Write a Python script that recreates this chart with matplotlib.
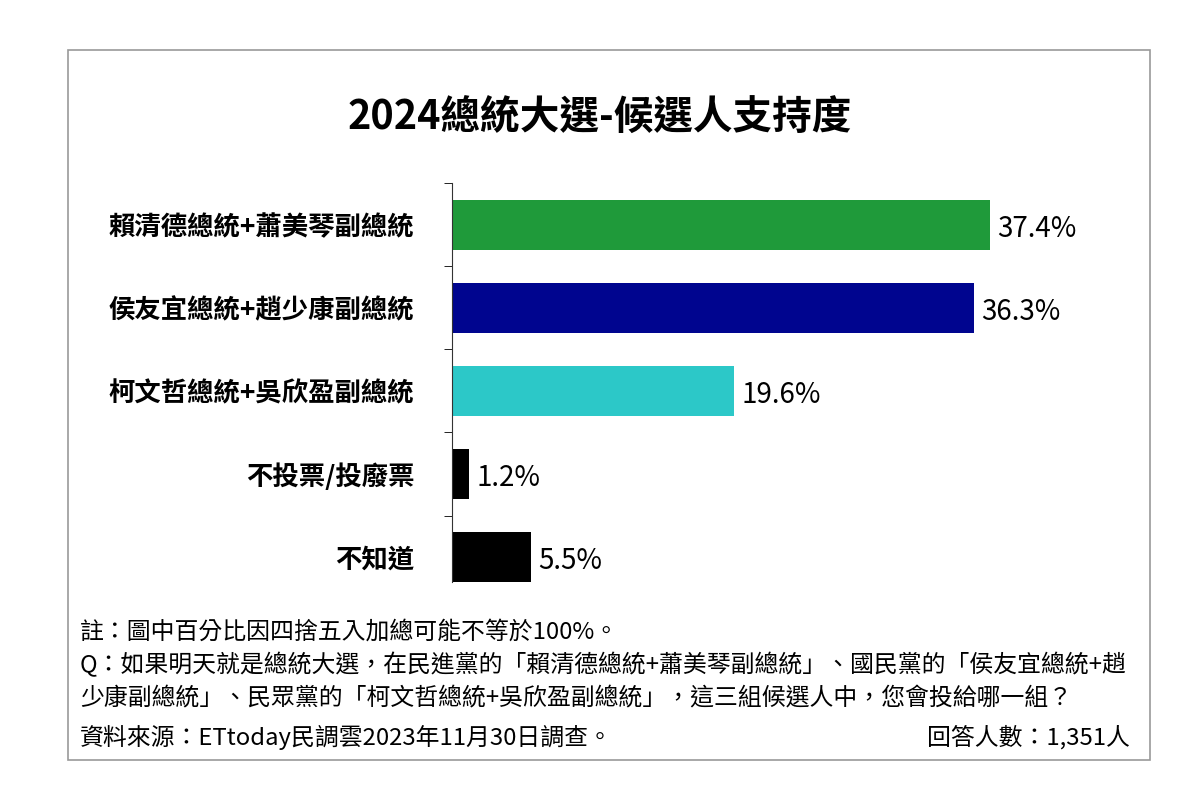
import matplotlib
matplotlib.use("Agg")
import matplotlib.pyplot as plt
from matplotlib.patches import Rectangle

plt.rcParams['font.family'] = ['Noto Sans CJK TC', 'DejaVu Sans']

categories = ["賴清德總統+蕭美琴副總統", "侯友宜總統+趙少康副總統", "柯文哲總統+吳欣盈副總統", "不投票/投廢票", "不知道"]
values = [37.4, 36.3, 19.6, 1.2, 5.5]
colors = ["#1f9a3a", "#00058f", "#2cc8c8", "#000000", "#000000"]
title = "2024總統大選-候選人支持度"
notes = ["註：圖中百分比因四捨五入加總可能不等於100%。",
         "Q：如果明天就是總統大選，在民進黨的「賴清德總統+蕭美琴副總統」、國民黨的「侯友宜總統+趙",
         "少康副總統」、民眾黨的「柯文哲總統+吳欣盈副總統」，這三組候選人中，您會投給哪一組？"]
source = "資料來源：ETtoday民調雲2023年11月30日調查。"
count = "回答人數：1,351人"

fig = plt.figure(figsize=(12, 7.9), dpi=100)
fig.patches.append(Rectangle((68/1200, 1-760/790), 1082/1200, 710/790, transform=fig.transFigure,
                             fill=False, edgecolor="#999999", linewidth=1.2))
ax = fig.add_axes([452/1200, 1-582/790, 698/1200, 399/790])
y = list(range(len(categories)))
ax.barh(y, values, color=colors, height=0.6)
ax.set_ylim(4.3, -0.5)
ax.set_xlim(0, 698/14.38)
ax.set_yticks(y)
ax.set_yticklabels(categories, fontsize=19, fontweight='semibold')
ax.set_yticks([i - 0.5 for i in range(5)], minor=True)
ax.tick_params(axis='y', which='major', length=0, pad=27)
ax.tick_params(axis='y', which='minor', length=6, direction='out')
ax.set_xticks([])
for s in ['top', 'right', 'bottom']:
    ax.spines[s].set_visible(False)
ax.spines['left'].set_color('#333333')
for yi, v in zip(y, values):
    ax.text(v + 0.5, yi + 0.05, f"{v}%", va='center', ha='left', fontsize=20)

fig.text(0.5, 1-118/790, title, ha='center', va='center', fontsize=28.5, fontweight='bold')
for i, t in enumerate(notes):
    fig.text(80/1200, 1-(632 + i*33)/790, t, ha='left', va='center', fontsize=17.2)
fig.text(80/1200, 1-737/790, source, ha='left', va='center', fontsize=17.2)
fig.text(1130/1200, 1-737/790, count, ha='right', va='center', fontsize=17.2)

fig.savefig("out.png", dpi=100, facecolor='white')
